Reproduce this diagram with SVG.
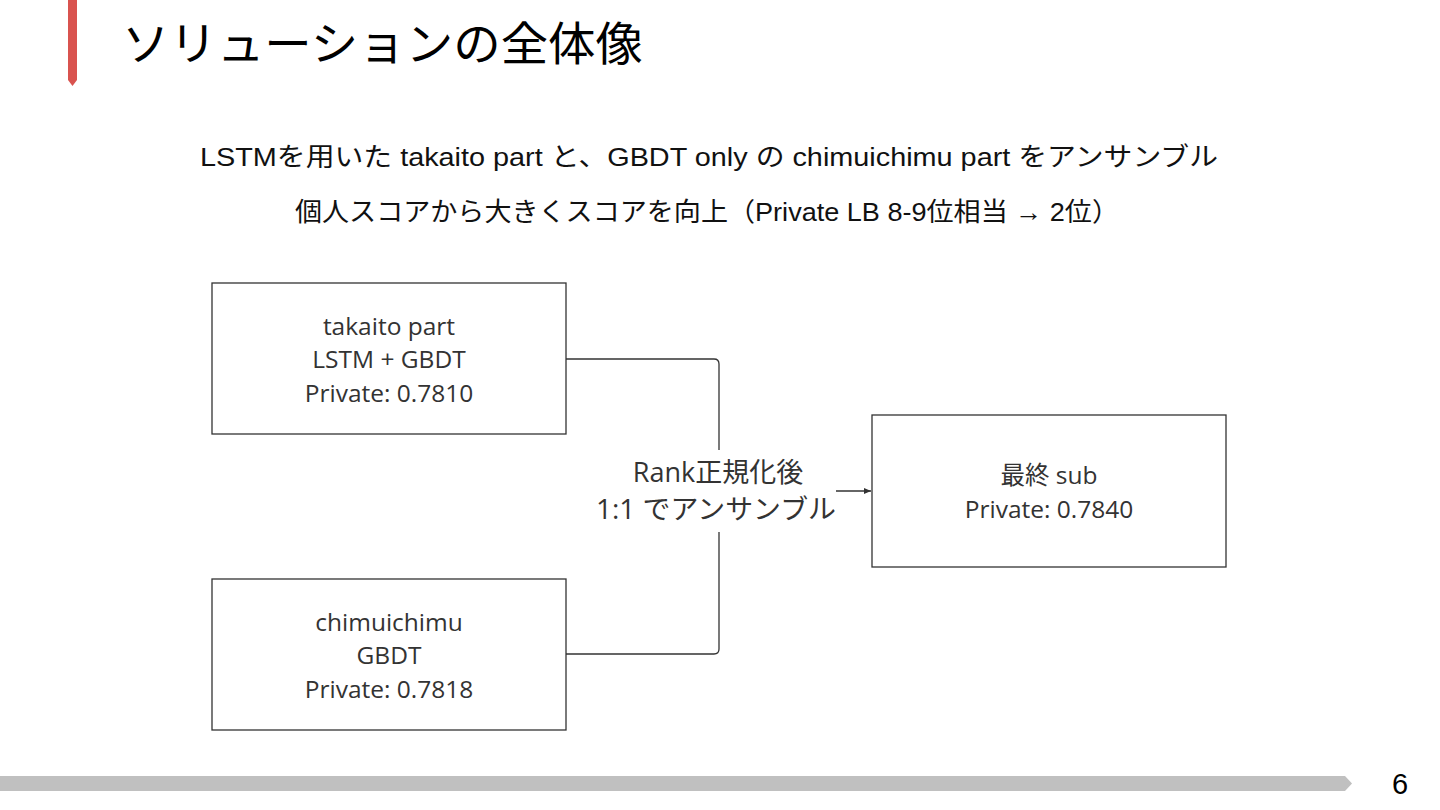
<svg xmlns="http://www.w3.org/2000/svg" width="1440" height="810" viewBox="0 0 1440 810">
<defs>
<marker id="arr" markerWidth="8" markerHeight="8" refX="7" refY="4" orient="auto" markerUnits="userSpaceOnUse"><path d="M0,1 L7,4 L0,7 Z" fill="#333"/></marker>
<style>
.box{fill:#fff;stroke:#333;stroke-width:1.3}
.bt{font-family:"Open Sans","Noto Sans","Noto Sans CJK JP",sans-serif;font-size:24.5px;fill:#333;text-anchor:middle}
.lbl{font-family:"Open Sans","Noto Sans","Noto Sans CJK JP",sans-serif;font-size:27px;fill:#333;text-anchor:middle}
.head{font-family:"Liberation Sans","Noto Sans CJK JP",sans-serif;font-size:26px;fill:#111;text-anchor:middle}
.conn{fill:none;stroke:#333;stroke-width:1.3}
</style>
</defs>
<rect width="1440" height="810" fill="#fff"/>
<path d="M68,0 H77 V80 L72.5,86 L68,80 Z" fill="#d9534f"/>
<text x="122" y="60" font-family="'Noto Sans CJK JP',sans-serif" font-size="46" fill="#000" textLength="521" lengthAdjust="spacingAndGlyphs">ソリューションの全体像</text>
<text class="head" x="709" y="166" textLength="1018" lengthAdjust="spacingAndGlyphs">LSTMを用いた takaito part と、GBDT only の chimuichimu part をアンサンブル</text>
<text class="head" x="707" y="221" textLength="824" lengthAdjust="spacingAndGlyphs">個人スコアから大きくスコアを向上（Private LB 8-9位相当 → 2位）</text>
<g id="connectors">
<path class="conn" d="M566,359 H714 Q719,359 719,364 V450"/>
<path class="conn" d="M566,654 H714 Q719,654 719,649 V532"/>
<path class="conn" d="M836,491 H871" marker-end="url(#arr)"/>
<text class="lbl" x="718" y="482">Rank正規化後</text>
<text class="lbl" x="716" y="519" textLength="240" lengthAdjust="spacingAndGlyphs">1:1 でアンサンブル</text>
</g>
<g id="takaito">
<rect class="box" x="212" y="283" width="354" height="151"/>
<text class="bt" x="389" y="335">takaito part</text>
<text class="bt" x="389" y="368">LSTM + GBDT</text>
<text class="bt" x="389" y="402">Private: 0.7810</text>
</g>
<g id="chimuichimu">
<rect class="box" x="212" y="579" width="354" height="151"/>
<text class="bt" x="389" y="631">chimuichimu</text>
<text class="bt" x="389" y="664">GBDT</text>
<text class="bt" x="389" y="698">Private: 0.7818</text>
</g>
<g id="final">
<rect class="box" x="872" y="415" width="354" height="152"/>
<text class="bt" x="1049" y="484">最終 sub</text>
<text class="bt" x="1049" y="518">Private: 0.7840</text>
</g>
<path d="M0,776 H1345 L1352,783.5 L1345,791 H0 Z" fill="#c0c0c0"/>
<text x="1400" y="794" font-family="'Liberation Sans',sans-serif" font-size="29" fill="#000" text-anchor="middle">6</text>
</svg>
